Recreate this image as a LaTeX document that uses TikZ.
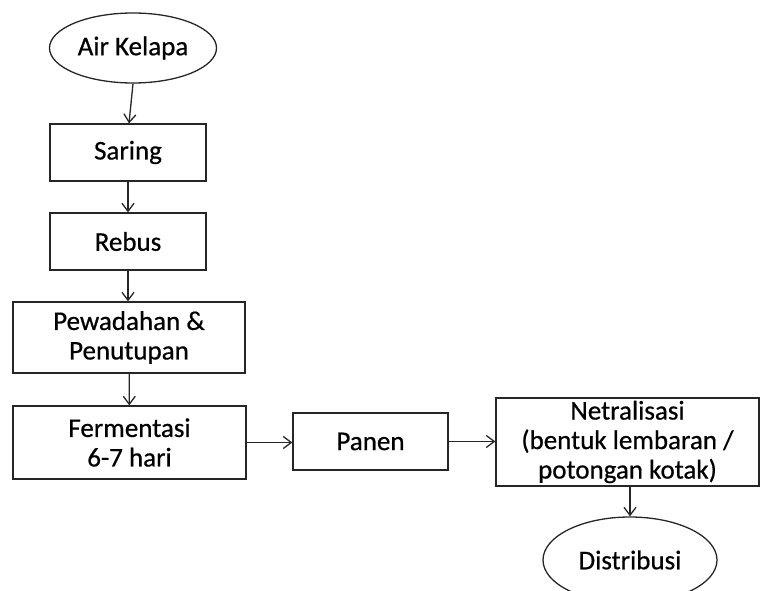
\documentclass[tikz,border=0pt]{standalone}
\usepackage{fontspec}
\setmainfont{Carlito}[FakeBold=0.6]
\usetikzlibrary{arrows.meta,shapes.geometric}
\begin{document}
\begin{tikzpicture}[x=1pt,y=-1pt,
  proc/.style={draw=black!85, line width=1.3pt, align=center, inner sep=0pt,
    font=\fontsize{27}{29.5}\selectfont},
  oval/.style={ellipse, draw=black!85, line width=1.3pt, align=center, inner sep=0pt,
    font=\fontsize{27}{29.5}\selectfont},
  arr/.style={draw=black!85, line width=1.3pt, -{Straight Barb[length=8pt,width=12pt]}}]
\useasboundingbox (0,0) rectangle (761,591);
\clip (0,0) rectangle (761,591);
\node[oval, minimum width=167pt, minimum height=70pt] (air) at (133,48) {Air Kelapa};
\node[proc, minimum width=156pt, minimum height=57pt] (saring) at (128,152.5) {Saring};
\node[proc, minimum width=156pt, minimum height=57pt] (rebus) at (128,241.5) {Rebus};
\node[proc, minimum width=232pt, minimum height=71pt] (wadah) at (129,337.5) {Pewadahan \&\\Penutupan};
\node[proc, minimum width=233pt, minimum height=73pt] (ferm) at (129.5,442.5) {Fermentasi\\6-7 hari};
\node[proc, minimum width=155pt, minimum height=57pt] (panen) at (370.5,441.5) {Panen};
\node[proc, minimum width=263pt, minimum height=88pt] (netral) at (627.5,442) {Netralisasi\\(bentuk lembaran /\\potongan kotak)};
\node[oval, minimum width=174pt, minimum height=86pt] (dist) at (630,560) {Distribusi};
\draw[arr] (air.south) -- ([xshift=1pt]saring.north);
\draw[arr] (saring) -- (rebus);
\draw[arr] (rebus.south) -- (rebus.south |- wadah.north);
\draw[arr] (wadah) -- (ferm);
\draw[arr] (ferm.east) -- (ferm.east -| panen.west);
\draw[arr] (panen.east) -- (panen.east -| netral.west);
\draw[arr] (netral.south -| dist.north) -- (dist.north);
\end{tikzpicture}
\end{document}
